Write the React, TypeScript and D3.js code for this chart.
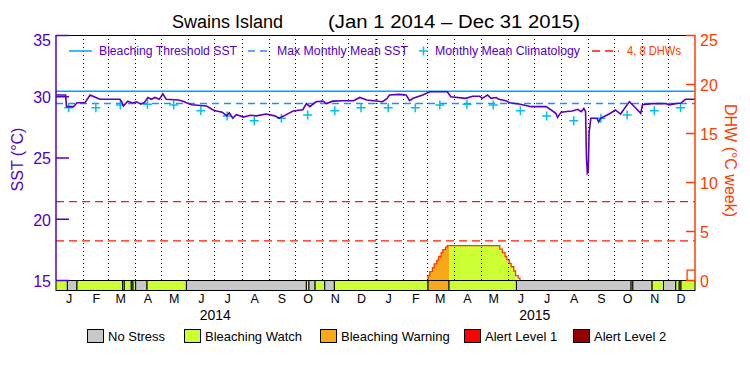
import React, { useEffect, useRef } from 'react';
import * as d3 from 'd3';

// time span of the chart (UTC days from Jan 1 2014)
const startDate = new Date(Date.UTC(2014, 0, 1));
const endDate = new Date(Date.UTC(2016, 0, 1));
const DAY = 864e5;

const monthLetters = ['J', 'F', 'M', 'A', 'M', 'J', 'J', 'A', 'S', 'O', 'N', 'D'];
const yearLabels = ['2014', '2015'];

// monthly mean climatology (degC), Jan..Dec
const climatology = [29.07, 29.07, 29.29, 29.34, 29.29, 28.82, 28.39, 28.0, 28.2, 28.47, 28.82, 29.07];
const maxMonthlyMean = 29.4;
const bleachingThreshold = 30.4;
const dhwRefLines = [4, 8];

// SST (degC)
const sstDays = [0, 11, 12, 20, 24, 33, 39, 50, 73, 75, 77, 82, 87, 92, 97, 101, 105, 109, 113, 118, 122, 126, 140, 145, 149, 155, 172, 179, 183, 190, 195, 198, 202, 206, 210, 214, 222, 229, 240, 250, 255, 263, 271, 282, 286, 290, 297, 305, 309, 316, 328, 340, 347, 355, 373, 378, 381, 392, 400, 404, 408, 419, 427, 447, 451, 468, 476, 484, 487, 493, 497, 503, 506, 514, 518, 529, 543, 560, 571, 573, 577, 584, 590, 596, 600, 603, 605, 606, 607, 608, 609, 611, 618, 620, 622, 632, 639, 645, 655, 660, 668, 670, 681, 697, 700, 708, 714, 719, 730];
const sstValues = [30.1, 30.1, 29.15, 29.15, 29.47, 29.47, 30.1, 29.75, 29.75, 29.55, 29.2, 29.6, 29.45, 29.55, 29.35, 29.5, 29.9, 29.75, 29.9, 29.75, 30.2, 29.75, 29.7, 29.6, 29.47, 29.3, 29.2, 28.9, 28.8, 28.7, 28.4, 28.65, 28.2, 28.5, 28.4, 28.3, 28.45, 28.4, 28.55, 28.4, 28.2, 28.5, 28.8, 28.9, 29.4, 29.15, 29.55, 29.6, 29.4, 29.6, 29.63, 29.63, 29.9, 29.7, 29.55, 29.8, 30.1, 30.15, 30.1, 29.64, 29.83, 30.1, 30.37, 30.37, 29.96, 29.83, 30.0, 30.0, 29.83, 30.1, 29.83, 29.9, 29.75, 29.64, 29.47, 29.37, 29.15, 29.15, 28.6, 28.27, 28.7, 28.75, 28.8, 28.93, 28.74, 29.0, 28.74, 25.0, 23.7, 23.8, 27.0, 28.2, 28.2, 27.9, 28.2, 28.55, 28.88, 28.55, 29.56, 29.2, 28.6, 29.3, 29.4, 29.4, 29.3, 29.4, 29.45, 29.75, 29.75];

// degree heating weeks
const dhwDays = [0, 300, 424, 425, 427, 430, 432, 435, 437, 440, 442, 445, 447, 507, 510, 513, 515, 518, 520, 523, 525, 528, 530, 620, 720, 721, 730];
const dhwValues = [0, 0, 0, 0.45, 0.85, 1.25, 1.65, 2.0, 2.4, 2.8, 3.1, 3.35, 3.5, 3.15, 2.8, 2.4, 2.05, 1.7, 1.35, 0.92, 0.45, 0.2, 0, 0, 0, 1.0, 1.0];
// stress event that is shaded by alert colour
const shadedEvent = [420, 535];

// bleaching alert status strip: start day and level of each run
const statusStart = [0, 13, 24, 76, 78, 86, 88, 91, 104, 149, 286, 289, 296, 307, 318, 425, 449, 526, 657, 659, 681, 694, 708, 712, 714];
const statusLevel = [1, 0, 1, 0, 1, 0, 1, 0, 1, 0, 1, 0, 1, 0, 1, 2, 1, 0, 1, 0, 1, 0, 1, 0, 1];
const statusNames = ['No Stress', 'Bleaching Watch', 'Bleaching Warning', 'Alert Level 1', 'Alert Level 2'];
const statusColors = ['#c8c8c8', '#ccff33', '#f9a81a', '#ff0000', '#960000'];

const FONT = '"Liberation Sans", Arial, sans-serif';
const PURPLE = '#5000c8';
const ORANGE = '#ff3c00';

export default function App() {
    const ref = useRef<SVGSVGElement | null>(null);

    useEffect(() => {
        if (!ref.current) return;
        const svg = d3.select(ref.current);
        svg.selectAll('*').remove();

        const left = 56, right = 695, top = 35, bottom = 280, stripH = 10;

        const x = d3.scaleUtc().domain([startDate, endDate]).range([left, right]);
        const y = d3.scaleLinear().domain([15, 35]).range([bottom, top]);
        const yDhw = d3.scaleLinear().domain([0, 25]).range([bottom, top]);
        const dayX = (d: number) => x(new Date(startDate.getTime() + d * DAY));

        svg.append('rect').attr('width', 750).attr('height', 375).attr('fill', '#fff');

        // DHW area, filled with the colour of the alert status underneath
        const defs = svg.append('defs');
        const dhwPts = dhwDays.map((d, i) => ({ d, v: dhwValues[i] }));
        const area = d3.area<{ d: number; v: number }>()
            .x(p => dayX(p.d)).y0(yDhw(0)).y1(p => yDhw(p.v))
            .curve(d3.curveStepAfter);
        statusStart.forEach((s0, i) => {
            const lvl = statusLevel[i];
            if (lvl === 0) return;
            const e0 = i + 1 < statusStart.length ? statusStart[i + 1] : 730;
            const s = Math.max(s0, shadedEvent[0]), e = Math.min(e0, shadedEvent[1]);
            if (e <= s) return;
            const id = `clip${i}`;
            defs.append('clipPath').attr('id', id).append('rect')
                .attr('x', dayX(s)).attr('y', top).attr('width', dayX(e) - dayX(s)).attr('height', bottom - top);
            svg.append('path').datum(dhwPts).attr('d', area)
                .attr('fill', statusColors[lvl]).attr('clip-path', `url(#${id})`);
        });
        const dhwLine = d3.line<{ d: number; v: number }>()
            .defined((p, i) => p.v > 0 || (i > 0 && dhwPts[i - 1].v > 0) || (i + 1 < dhwPts.length && dhwPts[i + 1].v > 0))
            .x(p => dayX(p.d)).y(p => yDhw(p.v))
            .curve(d3.curveStepAfter);
        svg.append('path').datum(dhwPts).attr('d', dhwLine)
            .attr('fill', 'none').attr('stroke', ORANGE).attr('stroke-width', 1.3);

        // dotted month lines
        const months = d3.utcMonth.range(startDate, endDate);
        months.slice(1).forEach(m => {
            const isYear = m.getUTCMonth() === 0;
            svg.append('line')
                .attr('x1', Math.round(x(m)) + 0.5).attr('x2', Math.round(x(m)) + 0.5)
                .attr('y1', top).attr('y2', bottom)
                .attr('stroke', '#000').attr('stroke-width', isYear ? 2 : 1)
                .attr('stroke-dasharray', '1,3');
        });

        // reference lines
        svg.append('line').attr('x1', left).attr('x2', right)
            .attr('y1', y(bleachingThreshold)).attr('y2', y(bleachingThreshold))
            .attr('stroke', '#00a0ff').attr('stroke-width', 1.5);
        svg.append('line').attr('x1', left).attr('x2', right)
            .attr('y1', y(maxMonthlyMean)).attr('y2', y(maxMonthlyMean))
            .attr('stroke', '#1e90ff').attr('stroke-width', 1.5).attr('stroke-dasharray', '7,5');
        dhwRefLines.forEach(v => {
            svg.append('line').attr('x1', left).attr('x2', right)
                .attr('y1', yDhw(v)).attr('y2', yDhw(v))
                .attr('stroke', '#ff1a00').attr('stroke-width', 1.3).attr('stroke-dasharray', '8,5');
        });

        // climatology crosses at mid-month
        months.forEach(m => {
            const mid = new Date(m.getTime() + 14.5 * DAY);
            const cx = x(mid), cy = y(climatology[m.getUTCMonth()]);
            svg.append('path').attr('d', `M${cx - 4.5},${cy}H${cx + 4.5}M${cx},${cy - 4.5}V${cy + 4.5}`)
                .attr('stroke', '#00c0f0').attr('stroke-width', 1.5).attr('fill', 'none');
        });

        // SST line
        const sstPts = sstDays.map((d, i) => ({ d, v: sstValues[i] }));
        svg.append('path').datum(sstPts)
            .attr('d', d3.line<{ d: number; v: number }>().x(p => dayX(p.d)).y(p => y(p.v)))
            .attr('fill', 'none').attr('stroke', '#5a00c0').attr('stroke-width', 1.6)
            .attr('stroke-linejoin', 'miter');

        // status strip
        statusStart.forEach((s, i) => {
            const e = i + 1 < statusStart.length ? statusStart[i + 1] : 730;
            svg.append('rect')
                .attr('x', dayX(s)).attr('y', bottom + 0.5)
                .attr('width', dayX(e) - dayX(s)).attr('height', stripH)
                .attr('fill', statusColors[statusLevel[i]])
                .attr('stroke', '#000').attr('stroke-width', 1);
        });

        // frame top
        svg.append('line').attr('x1', left).attr('x2', right).attr('y1', top + 0.5).attr('y2', top + 0.5)
            .attr('stroke', '#000').attr('stroke-width', 1);

        // left SST axis
        const gL = svg.append('g').attr('transform', `translate(${left},0)`);
        gL.call(d3.axisLeft(y).tickValues(d3.range(15, 36, 1)).tickSize(-7).tickFormat(() => ''));
        gL.call(d3.axisLeft(y).tickValues([15, 20, 25, 30, 35]).tickSize(-13).tickPadding(5).tickFormat(d3.format('d')) as any);
        gL.selectAll('path.domain').attr('stroke', PURPLE).attr('stroke-width', 1.5);
        gL.selectAll('line').attr('stroke', PURPLE).attr('stroke-width', 1.5);
        gL.selectAll('text').attr('fill', PURPLE).style('font-family', FONT).style('font-size', '16px')
            .attr('dy', (d: any) => (d === 35 ? '0.65em' : '0.4em'));
        gL.selectAll('path.domain').attr('d', `M0,${top}V${bottom}`);

        // right DHW axis
        const gR = svg.append('g').attr('transform', `translate(${right},0)`);
        gR.call(d3.axisRight(yDhw).tickValues(d3.range(0, 26, 1)).tickSize(-7).tickFormat(() => ''));
        gR.call(d3.axisRight(yDhw).tickValues([0, 5, 10, 15, 20, 25]).tickSize(-9).tickPadding(5).tickFormat(d3.format('d')) as any);
        gR.selectAll('path.domain').attr('stroke', ORANGE).attr('stroke-width', 1.5).attr('d', `M0,${top}V${bottom}`);
        gR.selectAll('line').attr('stroke', ORANGE).attr('stroke-width', 1.5);
        gR.selectAll('text').attr('fill', ORANGE).style('font-family', FONT).style('font-size', '16px')
            .attr('dy', (d: any) => (d === 25 ? '0.65em' : '0.4em'));

        // axis titles
        svg.append('text').attr('transform', `translate(23,${(top + bottom) / 2 + 2}) rotate(-90)`)
            .attr('text-anchor', 'middle').attr('fill', PURPLE)
            .style('font-family', FONT).style('font-size', '16px').text('SST (°C)');
        svg.append('text').attr('transform', `translate(725,${(top + bottom) / 2 + 3}) rotate(90)`)
            .attr('text-anchor', 'middle').attr('fill', ORANGE)
            .style('font-family', FONT).style('font-size', '16px').text('DHW (°C week)');

        // month and year labels
        months.forEach(m => {
            svg.append('text').attr('x', x(new Date(m.getTime() + 15 * DAY))).attr('y', 303)
                .attr('text-anchor', 'middle').attr('fill', '#000')
                .style('font-family', FONT).style('font-size', '12.5px')
                .text(monthLetters[m.getUTCMonth()]);
        });
        yearLabels.forEach((yl, i) => {
            svg.append('text').attr('x', x(new Date(Date.UTC(2014 + i, 6, 2)))).attr('y', 320)
                .attr('text-anchor', 'middle').attr('fill', '#000')
                .style('font-family', FONT).style('font-size', '14px').text(yl);
        });

        // title
        svg.append('text').attr('x', 172).attr('y', 28).attr('fill', '#000')
            .style('font-family', FONT).style('font-size', '18px').text('Swains Island');
        svg.append('text').attr('x', 328).attr('y', 28).attr('fill', '#000')
            .attr('textLength', 252).attr('lengthAdjust', 'spacingAndGlyphs')
            .style('font-family', FONT).style('font-size', '18px').text('(Jan 1 2014 – Dec 31 2015)');

        // in-plot legend
        const lg = svg.append('g').style('font-family', FONT).style('font-size', '12px');
        const ly = 51;
        const legendText = (tx: number, w: number, color: string, label: string) =>
            lg.append('text').attr('x', tx).attr('y', ly + 4).attr('fill', color)
                .attr('textLength', w).attr('lengthAdjust', 'spacingAndGlyphs').text(label);
        lg.append('line').attr('x1', 69).attr('x2', 92).attr('y1', ly).attr('y2', ly)
            .attr('stroke', '#00a0ff').attr('stroke-width', 1.5);
        legendText(99, 138, PURPLE, 'Bleaching Threshold SST');
        lg.append('line').attr('x1', 248).attr('x2', 272).attr('y1', ly).attr('y2', ly)
            .attr('stroke', '#1e90ff').attr('stroke-width', 1.5).attr('stroke-dasharray', '7,5');
        legendText(277, 131, PURPLE, 'Max Monthly Mean SST');
        lg.append('path').attr('d', `M419,${ly}H428M423.5,${ly - 4.5}V${ly + 4.5}`)
            .attr('stroke', '#00c0f0').attr('stroke-width', 1.5);
        legendText(435, 145, PURPLE, 'Monthly Mean Climatology');
        lg.append('line').attr('x1', 592).attr('x2', 619).attr('y1', ly).attr('y2', ly)
            .attr('stroke', '#ff1a00').attr('stroke-width', 1.3).attr('stroke-dasharray', '8,5');
        legendText(627, 54, ORANGE, '4, 8 DHWs');

        // status legend
        const boxX = [87, 184, 320, 464, 573];
        statusNames.forEach((name, i) => {
            svg.append('rect').attr('x', boxX[i] + 0.5).attr('y', 329.5).attr('width', 16).attr('height', 13)
                .attr('fill', statusColors[i]).attr('stroke', '#000').attr('stroke-width', 1);
            svg.append('text').attr('x', boxX[i] + 21).attr('y', 341).attr('fill', '#000')
                .style('font-family', FONT).style('font-size', '13px').text(name);
        });
    }, []);

    return (
        <svg ref={ref} width={750} height={375}
            style={{ position: 'absolute', left: 0, top: 0, background: '#fff' }} />
    );
}
